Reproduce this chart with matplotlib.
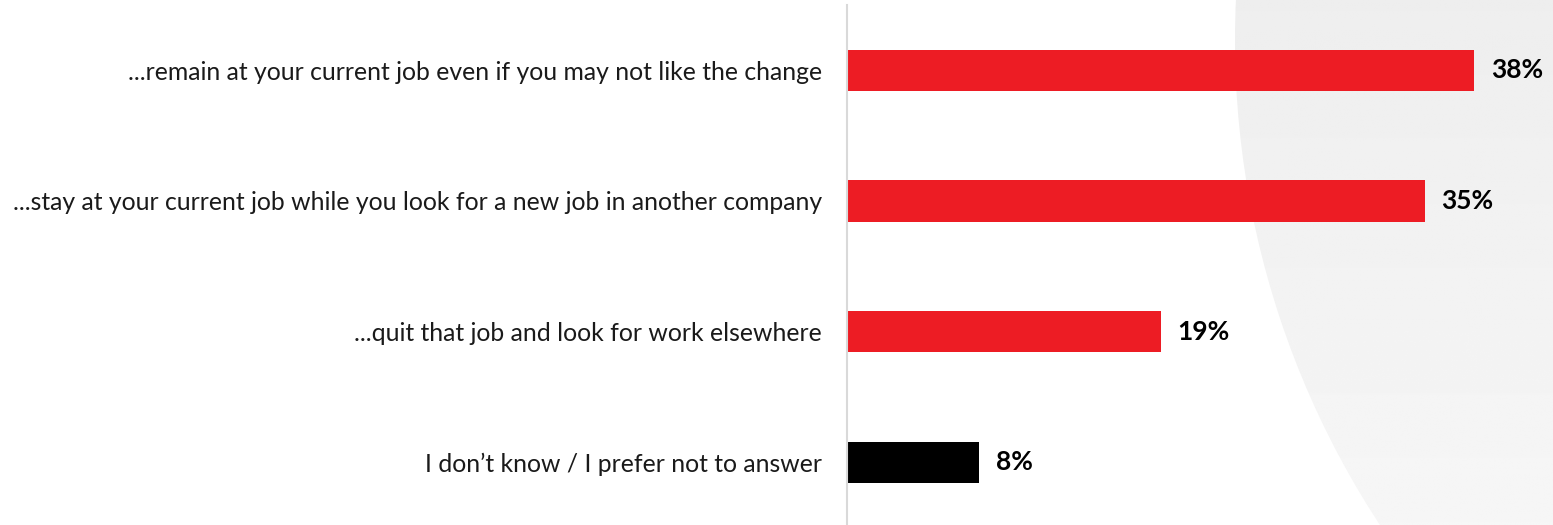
import matplotlib
matplotlib.use("Agg")
import matplotlib.pyplot as plt
import numpy as np
from matplotlib.patches import Circle

categories = [
    "...remain at your current job even if you may not like the change",
    "...stay at your current job while you look for a new job in another company",
    "...quit that job and look for work elsewhere",
    "I don\u2019t know / I prefer not to answer",
]
values = [38, 35, 19, 8]
colors = ["#ED1C24", "#ED1C24", "#ED1C24", "#000000"]

W, H, DPI = 1553, 525, 100
fig = plt.figure(figsize=(W / DPI, H / DPI), dpi=DPI)
fig.patch.set_facecolor("white")

# soft grey backdrop arc on the right, shaded top to bottom
bg = fig.add_axes([0, 0, 1, 1], zorder=0)
bg.set_xlim(0, W)
bg.set_ylim(H, 0)
bg.axis("off")
arc = Circle((2119, 40), 884, facecolor="none", edgecolor="none")
bg.add_patch(arc)
grad = np.linspace(0.933, 0.965, 256).reshape(-1, 1)
img = bg.imshow(np.repeat(grad, 2, axis=1), cmap="gray", vmin=0, vmax=1,
                extent=(1200, W, H, 0), aspect="auto", interpolation="bilinear")
img.set_clip_path(arc)

ax = fig.add_axes([847 / W, 0, (W - 847) / W, 1 - 5 / H], zorder=1)
ax.patch.set_alpha(0)
ypos = list(range(len(categories)))
ax.barh(ypos, values, height=0.315, color=colors)
ax.set_xlim(0, (W - 847) / 16.5)
ax.set_ylim(3.48, -0.5)

for s in ["top", "right", "bottom"]:
    ax.spines[s].set_visible(False)
ax.spines["left"].set_color("#d9d9d9")
ax.spines["left"].set_linewidth(1.5)
ax.set_xticks([])
ax.set_yticks(ypos)
ax.set_yticklabels(categories, fontsize=17.8, family="Lato", color="#1a1a1a")
ax.tick_params(axis="y", length=0, pad=18)

for y, v in zip(ypos, values):
    ax.annotate(f"{v}%", (v, y), xytext=(12, 0), textcoords="offset points",
                va="center", ha="left", fontsize=19, fontweight="bold",
                family="Lato", color="#000000")

fig.savefig("out.png", dpi=DPI)
